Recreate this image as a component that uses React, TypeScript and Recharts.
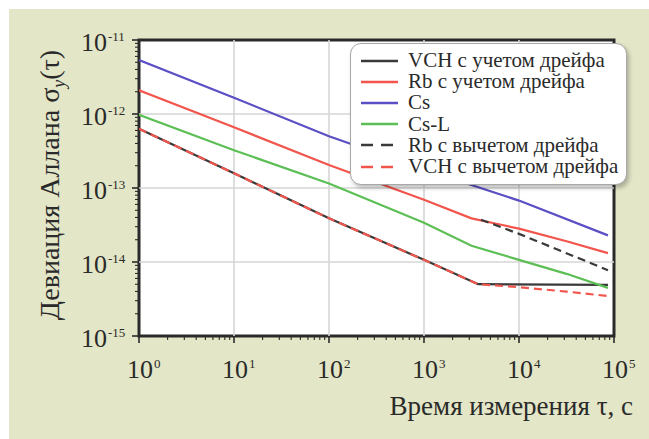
import React from 'react';
import { LineChart, Line, XAxis, YAxis, ReferenceLine, ReferenceArea, CartesianGrid, Legend } from 'recharts';

// Averaging time τ, s (decade ticks) and their exponent labels
const xMajor = [1, 10, 100, 1000, 10000, 100000];
const xExp = ['0', '1', '2', '3', '4', '5'];
// Allan deviation decades and their exponent labels
const yMajor = [1e-15, 1e-14, 1e-13, 1e-12, 1e-11];
const yExp = ['-15', '-14', '-13', '-12', '-11'];

// VCH с учетом дрейфа
const tauVchDrift = [1, 10, 100, 1000, 3715, 86400];
const sigmaVchDrift = [6.31e-13, 1.58e-13, 3.89e-14, 1.07e-14, 5.01e-15, 4.9e-15];
// Rb с учетом дрейфа
const tauRbDrift = [1, 10, 100, 1000, 3162, 5623, 10000, 31623, 86400];
const sigmaRbDrift = [2.09e-12, 6.61e-13, 2.04e-13, 6.92e-14, 3.89e-14, 3.31e-14, 2.82e-14, 1.91e-14, 1.32e-14];
// Cs
const tauCs = [1, 10, 100, 1000, 10000, 86400];
const sigmaCs = [5.37e-12, 1.66e-12, 5.01e-13, 1.78e-13, 6.76e-14, 2.29e-14];
// Cs-L
const tauCsL = [1, 10, 100, 1000, 3162, 10000, 31623, 86400];
const sigmaCsL = [9.77e-13, 3.24e-13, 1.15e-13, 3.39e-14, 1.66e-14, 1.07e-14, 6.92e-15, 4.47e-15];
// Rb с вычетом дрейфа
const tauRbNoDrift = [3981, 10000, 86400];
const sigmaRbNoDrift = [3.72e-14, 2.4e-14, 7.76e-15];
// VCH с вычетом дрейфа
const tauVchNoDrift = [1, 10, 100, 1000, 3715, 10000, 31623, 86400];
const sigmaVchNoDrift = [6.31e-13, 1.58e-13, 3.89e-14, 1.07e-14, 5.01e-15, 4.57e-15, 3.98e-15, 3.47e-15];

const seriesNames = [
  'VCH с учетом дрейфа',
  'Rb с учетом дрейфа',
  'Cs',
  'Cs-L',
  'Rb с вычетом дрейфа',
  'VCH с вычетом дрейфа',
];
const seriesColors = ['#3a3a3a', '#f2554c', '#5a4fc4', '#5cbf55', '#3a3a3a', '#f2554c'];
const seriesDash = ['', '', '', '', '8 5', '8 5'];
const seriesTau = [tauVchDrift, tauRbDrift, tauCs, tauCsL, tauRbNoDrift, tauVchNoDrift];
const seriesSigma = [sigmaVchDrift, sigmaRbDrift, sigmaCs, sigmaCsL, sigmaRbNoDrift, sigmaVchNoDrift];

const series = seriesNames.map((name, i) => ({
  name,
  color: seriesColors[i],
  dash: seriesDash[i],
  data: seriesTau[i].map((t, k) => ({ tau: t, sigma: seriesSigma[i][k] })),
}));

const minorOf = (majors: number[]) => {
  const out: number[] = [];
  for (let i = 0; i < majors.length - 1; i++) {
    for (let m = 2; m <= 9; m++) out.push(majors[i] * m);
  }
  return out;
};
const xTicks = [...xMajor, ...minorOf(xMajor)].sort((a, b) => a - b);
const yTicks = [...yMajor, ...minorOf(yMajor)].sort((a, b) => a - b);

const SERIF = '"Liberation Serif", "Times New Roman", serif';
const INK = '#2a2a2a';

const majorIndex = (list: number[], v: number) => list.findIndex((m) => Math.abs(m - v) / m < 1e-6);

const XTick = (props: any) => {
  const { x, y, payload } = props;
  const i = majorIndex(xMajor, payload.value);
  const major = i >= 0;
  return (
    <g>
      <line x1={x} y1={y} x2={x} y2={y + (major ? 7 : 4)} stroke={INK} strokeWidth={major ? 1.6 : 1.1} />
      {major && (
        <g fill={INK} fontFamily={SERIF}>
          <text x={x + 1} y={y + 42} textAnchor="middle" fontSize={26}>10</text>
          <text x={x + 15} y={y + 32} fontSize={13}>{xExp[i]}</text>
        </g>
      )}
    </g>
  );
};

const YTick = (props: any) => {
  const { x, y, payload } = props;
  const i = majorIndex(yMajor, payload.value);
  const major = i >= 0;
  return (
    <g>
      <line x1={x} y1={y} x2={x - (major ? 7 : 4)} y2={y} stroke={INK} strokeWidth={major ? 1.6 : 1.1} />
      {major && (
        <g fill={INK} fontFamily={SERIF}>
          <text x={x - 32} y={y + 11} textAnchor="end" fontSize={26}>10</text>
          <text x={x - 31} y={y + 1} fontSize={13}>{yExp[i]}</text>
        </g>
      )}
    </g>
  );
};

// Inward ticks along the right edge of the frame
const RightTick = (props: any) => {
  const { x, y, payload } = props;
  const major = majorIndex(yMajor, payload.value) >= 0;
  return <line x1={x} y1={y} x2={x - (major ? 6 : 4)} y2={y} stroke={INK} strokeWidth={major ? 1.4 : 1} />;
};

const YTitle = (props: any) => {
  const vb = props.viewBox || { x: 0, y: 40, width: 139, height: 296 };
  const cx = vb.x + 59;
  const cy = vb.y + vb.height / 2 - 3;
  return (
    <text
      x={cx}
      y={cy}
      transform={`rotate(-90, ${cx}, ${cy})`}
      textAnchor="middle"
      fontFamily={SERIF}
      fontSize={28}
      fill={INK}
    >
      Девиация Аллана σ
      <tspan fontSize={18} fontStyle="italic" dy={6}>y</tspan>
      <tspan dy={-6}>(τ)</tspan>
    </text>
  );
};

const XTitle = (props: any) => {
  const vb = props.viewBox || { x: 139, y: 336, width: 475, height: 103 };
  return (
    <text
      x={vb.x + vb.width + 19}
      y={vb.y + 79}
      textAnchor="end"
      fontFamily={SERIF}
      fontSize={27}
      fill={INK}
    >
      Время измерения τ, с
    </text>
  );
};

const LegendBox = () => (
  <div
    style={{
      width: 277,
      height: 142,
      boxSizing: 'border-box',
      background: '#fff',
      border: '1px solid #a8a8a8',
      borderRadius: 11,
      boxShadow: '2px 3px 4px rgba(0,0,0,0.25)',
      paddingTop: 6,
    }}
  >
    {series.map((s) => (
      <div key={s.name} style={{ display: 'flex', alignItems: 'center', height: 21.2 }}>
        <svg width={57} height={10} style={{ flex: 'none' }}>
          <line
            x1={10}
            y1={5}
            x2={47}
            y2={5}
            stroke={s.color}
            strokeWidth={2.6}
            strokeDasharray={s.dash ? '12 8' : undefined}
          />
        </svg>
        <span style={{ fontFamily: SERIF, fontSize: 21, color: INK, whiteSpace: 'nowrap', lineHeight: '21px' }}>
          {s.name}
        </span>
      </div>
    ))}
  </div>
);

export default function App() {
  return (
    <div style={{ position: 'absolute', left: 0, top: 0, width: 649, height: 439, background: '#fff' }}>
      <div
        style={{
          position: 'absolute',
          left: 9,
          top: 9,
          width: 640,
          height: 430,
          background: '#e3e6c7',
        }}
      />
      <div style={{ position: 'absolute', left: 0, top: 0 }}>
        <LineChart width={649} height={439} margin={{ top: 40, right: 35, bottom: 0, left: 0 }}>
          <CartesianGrid fill="#ffffff" horizontal={false} vertical={false} />
          <XAxis
            dataKey="tau"
            type="number"
            scale="log"
            domain={[1, 100000]}
            allowDataOverflow
            ticks={xTicks}
            interval={0}
            height={103}
            tickSize={0}
            tickMargin={0}
            tickLine={false}
            axisLine={false}
            tick={(p: any) => <XTick {...p} />}
            label={<XTitle />}
          />
          <YAxis
            dataKey="sigma"
            type="number"
            scale="log"
            domain={[1e-15, 1e-11]}
            allowDataOverflow
            ticks={yTicks}
            interval={0}
            width={139}
            tickSize={0}
            tickMargin={0}
            tickLine={false}
            axisLine={false}
            tick={(p: any) => <YTick {...p} />}
            label={<YTitle />}
          />
          <YAxis
            yAxisId="right"
            orientation="right"
            type="number"
            scale="log"
            domain={[1e-15, 1e-11]}
            allowDataOverflow
            ticks={yTicks}
            interval={0}
            width={0}
            tickSize={0}
            tickMargin={0}
            tickLine={false}
            axisLine={false}
            tick={(p: any) => <RightTick {...p} />}
          />
          {xMajor.slice(1, -1).map((v) => (
            <ReferenceLine key={'gx' + v} x={v} stroke="#d6d6d6" strokeWidth={1.6} />
          ))}
          {yMajor.slice(1, -1).map((v) => (
            <ReferenceLine key={'gy' + v} y={v} stroke="#d6d6d6" strokeWidth={1.6} />
          ))}
          {series.map((s) => (
            <Line
              key={s.name}
              data={s.data}
              dataKey="sigma"
              name={s.name}
              type="linear"
              stroke={s.color}
              strokeWidth={2.2}
              strokeDasharray={s.dash || undefined}
              dot={false}
              activeDot={false}
              isAnimationActive={false}
            />
          ))}
          <ReferenceArea
            x1={1}
            x2={100000}
            y1={1e-15}
            y2={1e-11}
            fill="none"
            stroke={INK}
            strokeWidth={3}
          />
          <Legend
            layout="vertical"
            align="center"
            verticalAlign="middle"
            wrapperStyle={{ position: 'absolute', left: 350, top: 43, width: 277, height: 142 }}
            content={() => <LegendBox />}
          />
        </LineChart>
      </div>
    </div>
  );
}
